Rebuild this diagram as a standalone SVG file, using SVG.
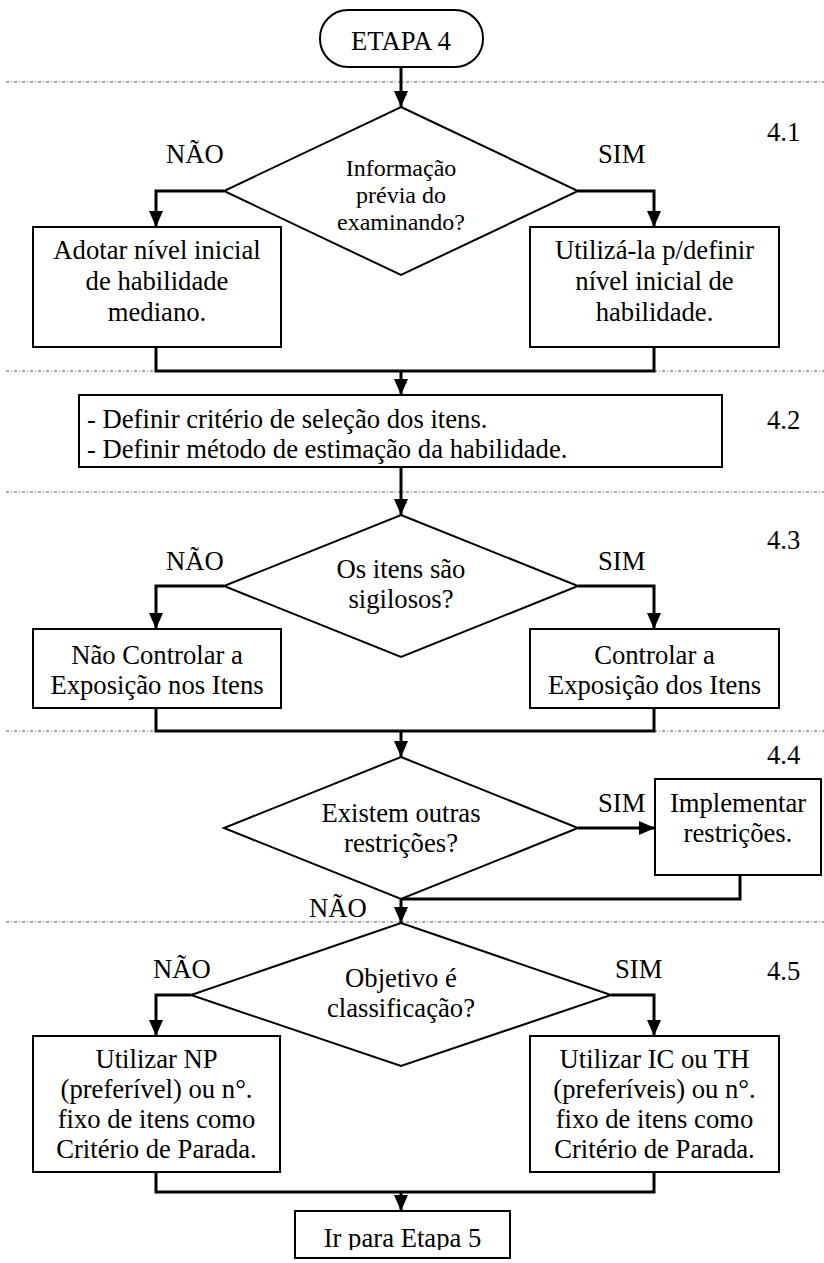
<svg xmlns="http://www.w3.org/2000/svg" width="824" height="1263" viewBox="0 0 824 1263">
<style>
.bg{fill:#fff}
.sep{fill:none;stroke:#555;stroke-width:1;stroke-dasharray:3 2 1 2}
.conn{fill:none;stroke:#000;stroke-width:3}
.box{fill:#fff;stroke:#000;stroke-width:2}
.t{font-family:"Liberation Serif","Times New Roman",serif;font-size:26.67px;fill:#000}
.c{text-anchor:middle}
.s{font-size:24px}
</style>
<defs>
<marker id="ah" markerUnits="userSpaceOnUse" markerWidth="16" markerHeight="14" refX="16" refY="7" orient="auto">
<path d="M0,0 L16,7 L0,14 z" fill="#000"/>
</marker>
<clipPath id="irclip"><rect x="296" y="1212" width="213" height="38"/></clipPath>
</defs>
<rect class="bg" x="0" y="0" width="824" height="1263"/>

<g id="separators">
<line class="sep" x1="6" y1="82" x2="824" y2="82"/>
<line class="sep" x1="6" y1="371" x2="824" y2="371"/>
<line class="sep" x1="6" y1="492" x2="824" y2="492"/>
<line class="sep" x1="6" y1="731" x2="824" y2="731"/>
<line class="sep" x1="6" y1="922" x2="824" y2="922"/>
</g>

<g id="connectors">
<path class="conn" d="M401,67 V107" marker-end="url(#ah)"/>
<path class="conn" d="M224,191 H156 V227" marker-end="url(#ah)"/>
<path class="conn" d="M578,191 H654 V227" marker-end="url(#ah)"/>
<path class="conn" d="M156,347 V371 H654 V347"/>
<path class="conn" d="M401,371 V395" marker-end="url(#ah)"/>
<path class="conn" d="M401,467 V515" marker-end="url(#ah)"/>
<path class="conn" d="M224,586 H156 V629" marker-end="url(#ah)"/>
<path class="conn" d="M578,586 H654 V629" marker-end="url(#ah)"/>
<path class="conn" d="M156,708 V731 H654 V708"/>
<path class="conn" d="M401,731 V757" marker-end="url(#ah)"/>
<path class="conn" d="M578,828 H655" marker-end="url(#ah)"/>
<path class="conn" d="M740,875 V899 H401"/>
<path class="conn" d="M401,899 V923" marker-end="url(#ah)"/>
<path class="conn" d="M191,995 H156 V1036" marker-end="url(#ah)"/>
<path class="conn" d="M611,995 H654 V1036" marker-end="url(#ah)"/>
<path class="conn" d="M156,1172 V1192 H654 V1172"/>
<path class="conn" d="M401,1192 V1211" marker-end="url(#ah)"/>
</g>

<g id="start">
<rect class="box" x="320" y="10" width="163" height="57" rx="28" ry="28"/>
<text class="t c" x="401" y="50">ETAPA 4</text>
</g>

<g id="label-4-1"><text class="t" x="767" y="141">4.1</text></g>
<g id="label-4-2"><text class="t" x="767" y="429">4.2</text></g>
<g id="label-4-3"><text class="t" x="767" y="549">4.3</text></g>
<g id="label-4-4"><text class="t" x="767" y="764">4.4</text></g>
<g id="label-4-5"><text class="t" x="767" y="980">4.5</text></g>

<g id="dec1">
<polygon class="box" points="401,107 578,191 401,275 224,191"/>
<text class="t c s" x="401" y="176">Informação</text>
<text class="t c s" x="401" y="203">prévia do</text>
<text class="t c s" x="401" y="230">examinando?</text>
<text class="t" x="166" y="163">NÃO</text>
<text class="t" x="598" y="163">SIM</text>
</g>

<g id="box1-nao">
<rect class="box" x="33" y="227" width="248" height="120"/>
<text class="t c" x="157" y="259">Adotar nível inicial</text>
<text class="t c" x="157" y="290">de habilidade</text>
<text class="t c" x="157" y="321">mediano.</text>
</g>

<g id="box1-sim">
<rect class="box" x="530" y="227" width="249" height="120"/>
<text class="t c" x="654.5" y="259">Utilizá-la p/definir</text>
<text class="t c" x="654.5" y="290">nível inicial de</text>
<text class="t c" x="654.5" y="321">habilidade.</text>
</g>

<g id="box2">
<rect class="box" x="79" y="395" width="643" height="72"/>
<text class="t" x="87" y="428">- Definir critério de seleção dos itens.</text>
<text class="t" x="87" y="458">- Definir método de estimação da habilidade.</text>
</g>

<g id="dec2">
<polygon class="box" points="401,515 578,586 401,657 224,586"/>
<text class="t c" x="401" y="578">Os itens são</text>
<text class="t c" x="401" y="608">sigilosos?</text>
<text class="t" x="166" y="570">NÃO</text>
<text class="t" x="598" y="570">SIM</text>
</g>

<g id="box3-nao">
<rect class="box" x="33" y="629" width="248" height="79"/>
<text class="t c" x="157" y="664">Não Controlar a</text>
<text class="t c" x="157" y="694">Exposição nos Itens</text>
</g>

<g id="box3-sim">
<rect class="box" x="530" y="629" width="249" height="79"/>
<text class="t c" x="654.5" y="664">Controlar a</text>
<text class="t c" x="654.5" y="694">Exposição dos Itens</text>
</g>

<g id="dec3">
<polygon class="box" points="401,757 578,828 401,899 224,828"/>
<text class="t c" x="401" y="822">Existem outras</text>
<text class="t c" x="401" y="852">restrições?</text>
<text class="t" x="598" y="812">SIM</text>
<text class="t" x="309" y="917">NÃO</text>
</g>

<g id="box4">
<rect class="box" x="655" y="779" width="166" height="96"/>
<text class="t c" x="738" y="812">Implementar</text>
<text class="t c" x="738" y="842">restrições.</text>
</g>

<g id="dec4">
<polygon class="box" points="401,923 611,995 401,1066 191,995"/>
<text class="t c" x="401" y="987">Objetivo é</text>
<text class="t c" x="401" y="1017">classificação?</text>
<text class="t" x="153" y="978">NÃO</text>
<text class="t" x="615" y="978">SIM</text>
</g>

<g id="box5-nao">
<rect class="box" x="33" y="1036" width="247" height="136"/>
<text class="t c" x="156.5" y="1068">Utilizar NP</text>
<text class="t c" x="156.5" y="1098">(preferível) ou n°.</text>
<text class="t c" x="156.5" y="1128">fixo de itens como</text>
<text class="t c" x="156.5" y="1158">Critério de Parada.</text>
</g>

<g id="box5-sim">
<rect class="box" x="530" y="1036" width="249" height="136"/>
<text class="t c" x="654.5" y="1068">Utilizar IC ou TH</text>
<text class="t c" x="654.5" y="1098">(preferíveis) ou n°.</text>
<text class="t c" x="654.5" y="1128">fixo de itens como</text>
<text class="t c" x="654.5" y="1158">Critério de Parada.</text>
</g>

<g id="end">
<rect class="box" x="295" y="1211" width="215" height="47"/>
<text class="t c" x="402.5" y="1247" clip-path="url(#irclip)">Ir para Etapa 5</text>
</g>
</svg>
